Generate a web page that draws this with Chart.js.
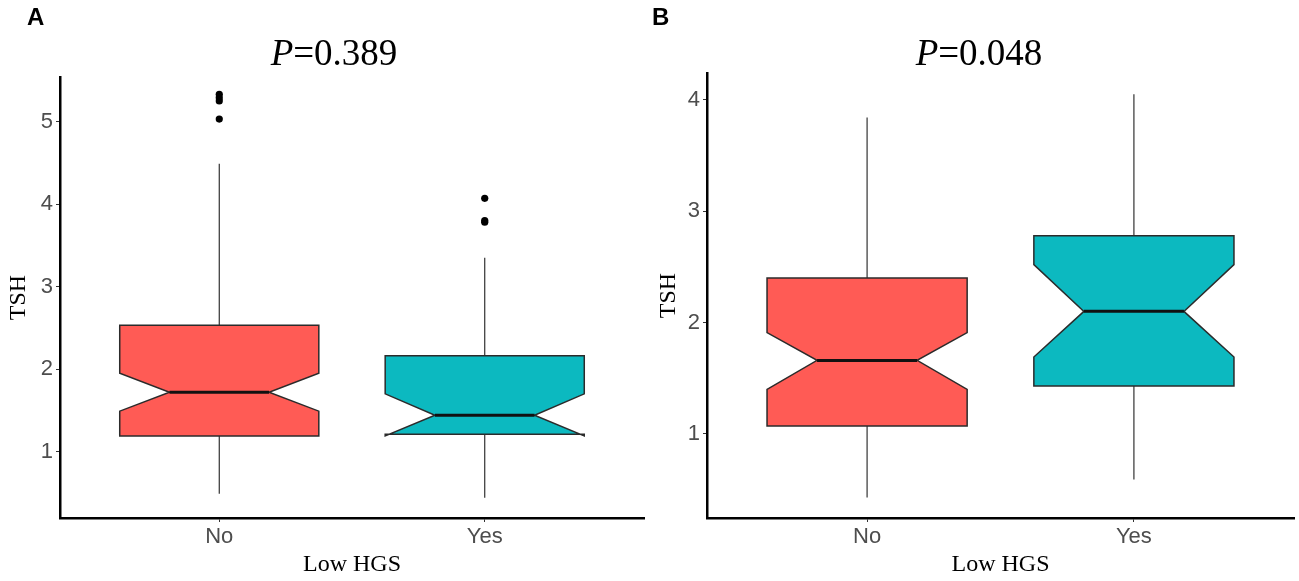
<!DOCTYPE html>
<html>
<head>
<meta charset="utf-8">
<title>TSH por Low HGS</title>
<script src="https://cdn.jsdelivr.net/npm/chart.js@4.4.1/dist/chart.umd.min.js"></script>
<style>
  body { margin: 0; background: #fff; }
  #lienzo { position: relative; width: 1299px; height: 581px; overflow: hidden; background: #fff; }
  .panel { position: absolute; top: 0; height: 581px; }
  .letra { position: absolute; font-family: 'Liberation Sans', Arial, sans-serif; font-weight: bold; font-size: 24px; line-height: 1; }
  .titulo { position: absolute; font-family: 'Liberation Serif', 'Times New Roman', serif; font-size: 37px; line-height: 1; transform: translateX(-50%); white-space: nowrap; }
</style>
</head>
<body>
<div id="lienzo">
  <div class="panel" style="left:0;width:650px;"><canvas id="graficaA"></canvas></div>
  <div class="panel" style="left:650px;width:649px;"><canvas id="graficaB"></canvas></div>
  <div class="letra" style="left:27px;top:5px;">A</div>
  <div class="letra" style="left:652px;top:5px;">B</div>
  <div class="titulo" style="left:334px;top:34px;"><i>P</i>=0.389</div>
  <div class="titulo" style="left:979px;top:34px;"><i>P</i>=0.048</div>
</div>
<script>
const categories = ['No', 'Yes'];
const categoryPos = [1, 2];
const xTitle = 'Low HGS';
const yTitle = 'TSH';

// panel A
const aWhiskerLow = [0.49, 0.44];
const aQ1 = [1.19, 1.21];
const aNotchLow = [1.49, 1.19];
const aMedian = [1.72, 1.44];
const aNotchHigh = [1.95, 1.70];
const aQ3 = [2.53, 2.16];
const aWhiskerHigh = [4.49, 3.35];
const aOutliersNo = [5.33, 5.29, 5.25, 5.03];
const aOutliersYes = [4.07, 3.80, 3.78];
const aTicks = [1, 2, 3, 4, 5];

// panel B
const bWhiskerLow = [0.43, 0.59];
const bQ1 = [1.07, 1.43];
const bNotchLow = [1.40, 1.69];
const bMedian = [1.66, 2.10];
const bNotchHigh = [1.91, 2.52];
const bQ3 = [2.40, 2.78];
const bWhiskerHigh = [3.84, 4.05];
const bOutliersNo = [];
const bOutliersYes = [];
const bTicks = [1, 2, 3, 4];

const fillColors = ['#FF5B55', '#0CB9C0'];

// dibuja las cajas con muesca usando las escalas de la grafica
const cajasConMuesca = {
    id: 'cajasConMuesca',
    beforeDatasetsDraw(chart, args, opts) {
        const ctx = chart.ctx;
        const x = chart.scales.x;
        const y = chart.scales.y;
        const half = 0.375;
        const notchHalf = half / 2;
        for (let i = 0; i < categoryPos.length; i++) {
            const c = categoryPos[i];
            const xc = x.getPixelForValue(c);
            const xl = x.getPixelForValue(c - half);
            const xr = x.getPixelForValue(c + half);
            const nl = x.getPixelForValue(c - notchHalf);
            const nr = x.getPixelForValue(c + notchHalf);
            const q1 = y.getPixelForValue(opts.q1[i]);
            const q3 = y.getPixelForValue(opts.q3[i]);
            const med = y.getPixelForValue(opts.median[i]);
            const nLow = y.getPixelForValue(opts.notchLow[i]);
            const nHigh = y.getPixelForValue(opts.notchHigh[i]);

            ctx.save();
            ctx.strokeStyle = '#333';
            ctx.lineWidth = 1.2;
            ctx.beginPath();
            ctx.moveTo(xc, q3);
            ctx.lineTo(xc, y.getPixelForValue(opts.whiskerHigh[i]));
            ctx.moveTo(xc, q1);
            ctx.lineTo(xc, y.getPixelForValue(opts.whiskerLow[i]));
            ctx.stroke();

            let pts = [[xl, q3], [xl, nHigh], [nl, med], [xl, nLow], [xl, q1],
                       [xr, q1], [xr, nLow], [nr, med], [xr, nHigh], [xr, q3]];
            ctx.beginPath();
            ctx.moveTo(pts[0][0], pts[0][1]);
            for (let k = 1; k < pts.length; k++) {
                ctx.lineTo(pts[k][0], pts[k][1]);
            }
            ctx.closePath();
            ctx.fillStyle = fillColors[i];
            ctx.fill();
            ctx.lineWidth = 1.5;
            ctx.strokeStyle = '#2b2b2b';
            ctx.lineJoin = 'miter';
            ctx.stroke();

            ctx.beginPath();
            ctx.moveTo(nl, med);
            ctx.lineTo(nr, med);
            ctx.lineWidth = 3;
            ctx.strokeStyle = '#111';
            ctx.stroke();
            ctx.restore();
        }
    }
};

function construirPanel(id, p) {
    const ctx = document.getElementById(id).getContext('2d');
    const puntos = [];
    p.outNo.forEach(v => puntos.push({x: categoryPos[0], y: v}));
    p.outYes.forEach(v => puntos.push({x: categoryPos[1], y: v}));
    return new Chart(ctx, {
        type: 'scatter',
        plugins: [cajasConMuesca],
        data: {
            datasets: [{
                data: puntos,
                pointRadius: 3.6,
                pointBackgroundColor: '#000',
                pointBorderWidth: 0
            }]
        },
        options: {
            responsive: true,
            maintainAspectRatio: false,
            animation: false,
            layout: { padding: { left: 0, right: p.padRight, top: p.padTop, bottom: 0 } },
            plugins: {
                legend: { display: false },
                tooltip: { enabled: false },
                cajasConMuesca: p.stats
            },
            scales: {
                x: {
                    type: 'linear',
                    min: 0.4,
                    max: 2.6,
                    afterBuildTicks: s => { s.ticks = categoryPos.map(v => ({value: v})); },
                    afterFit: s => { s.height = 63; },
                    ticks: {
                        callback: v => categories[categoryPos.indexOf(v)],
                        color: '#4d4d4d',
                        font: { family: "'Liberation Sans', Arial, sans-serif", size: 22 },
                        padding: 2,
                        maxRotation: 0
                    },
                    grid: { drawOnChartArea: false, tickLength: 4, color: '#333', lineWidth: 1 },
                    border: { display: true, color: '#000', width: 2.5 },
                    title: {
                        display: true,
                        text: xTitle,
                        color: '#000',
                        font: { family: "'Liberation Serif', 'Times New Roman', serif", size: 24 },
                        padding: { top: 0, bottom: 2 }
                    }
                },
                y: {
                    min: p.yMin,
                    max: p.yMax,
                    afterBuildTicks: s => { s.ticks = p.ticks.map(v => ({value: v})); },
                    afterFit: s => { s.width = p.yWidth; },
                    ticks: {
                        color: '#4d4d4d',
                        font: { family: "'Liberation Sans', Arial, sans-serif", size: 22 },
                        padding: 3
                    },
                    grid: { drawOnChartArea: false, tickLength: 4, color: '#333', lineWidth: 1 },
                    border: { display: true, color: '#000', width: 2.5 },
                    title: {
                        display: true,
                        text: yTitle,
                        color: '#000',
                        font: { family: "'Liberation Serif', 'Times New Roman', serif", size: 24 },
                        padding: { top: 4, bottom: 0 }
                    }
                }
            }
        }
    });
}

construirPanel('graficaA', {
    yMin: 0.195, yMax: 5.54, ticks: aTicks, yWidth: 60, padRight: 6, padTop: 77,
    outNo: aOutliersNo, outYes: aOutliersYes,
    stats: { whiskerLow: aWhiskerLow, q1: aQ1, notchLow: aNotchLow, median: aMedian,
             notchHigh: aNotchHigh, q3: aQ3, whiskerHigh: aWhiskerHigh }
});

construirPanel('graficaB', {
    yMin: 0.245, yMax: 4.24, ticks: bTicks, yWidth: 57, padRight: 5, padTop: 73,
    outNo: bOutliersNo, outYes: bOutliersYes,
    stats: { whiskerLow: bWhiskerLow, q1: bQ1, notchLow: bNotchLow, median: bMedian,
             notchHigh: bNotchHigh, q3: bQ3, whiskerHigh: bWhiskerHigh }
});
</script>
</body>
</html>
